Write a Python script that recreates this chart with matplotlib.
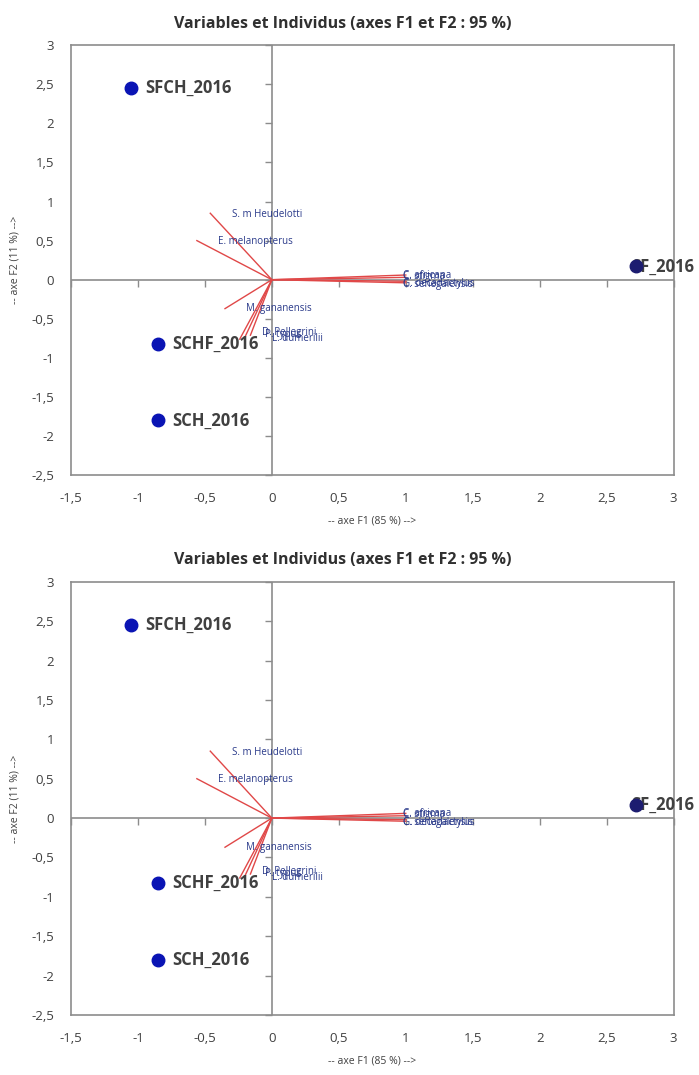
import matplotlib
matplotlib.use("Agg")
import matplotlib.pyplot as plt
from matplotlib.lines import TICKLEFT, TICKDOWN

plt.rcParams["font.family"] = ["Open Sans", "DejaVu Sans"]

# individus (observations)
obs_names = ["SFCH_2016", "SCHF_2016", "SCH_2016", "SF_2016"]
obs_x = [-1.05, -0.85, -0.85, 2.72]
obs_y = [2.45, -0.82, -1.80, 0.17]

# variables (espèces) : extrémités des vecteurs
var_names = ["S. m Heudelotti", "E. melanopterus", "C. africana", "C. stigma",
             "G. decadactylus", "C. senegalensis", "M. gananensis",
             "D. Pellegrini", "P. typus", "L. dumerilii"]
var_x = [-0.46, -0.56, 1.00, 1.00, 1.00, 1.00, -0.35, -0.24, -0.20, -0.16]
var_y = [0.85, 0.50, 0.06, 0.03, -0.02, -0.04, -0.37, -0.76, -0.73, -0.71]
# position des étiquettes des variables
lab_x = [-0.30, -0.40, 0.98, 0.98, 0.98, 0.98, -0.19, -0.07, -0.05, 0.0]
lab_y = [0.83, 0.49, 0.06, 0.04, -0.05, -0.06, -0.37, -0.68, -0.70, -0.75]

xticks = [-1.5, -1, -0.5, 0, 0.5, 1, 1.5, 2, 2.5, 3]
yticks = [-2.5, -2, -1.5, -1, -0.5, 0, 0.5, 1, 1.5, 2, 2.5, 3]


def fr(v):
    return ("%g" % v).replace(".", ",")


def draw(ax, title_y):
    grey = "#8c8c8c"
    ax.set_xlim(-1.5, 3)
    ax.set_ylim(-2.5, 3)
    for s in ax.spines.values():
        s.set_color(grey)
        s.set_linewidth(1.2)
    ax.set_xticks(xticks)
    ax.set_yticks(yticks)
    ax.set_xticklabels([fr(v) for v in xticks])
    ax.set_yticklabels([fr(v) for v in yticks])
    ax.tick_params(length=0, labelsize=9.5, labelcolor="#404040", pad=12)

    # axes passant par l'origine
    ax.axhline(0, color=grey, lw=1.2, zorder=1)
    ax.axvline(0, color=grey, lw=1.2, zorder=1)
    ax.plot([0] * len(yticks), yticks, ls="none", marker=TICKLEFT,
            ms=5, mec=grey, mew=1, zorder=1, clip_on=False)
    ax.plot(xticks, [0] * len(xticks), ls="none", marker=TICKDOWN,
            ms=5, mec=grey, mew=1, zorder=1, clip_on=False)

    for vx, vy, lx, ly, name in zip(var_x, var_y, lab_x, lab_y, var_names):
        ax.plot([0, vx], [0, vy], color="#e04848", lw=1, zorder=2)
        ax.text(lx, ly, name, fontsize=7, color="#2a3a8a", va="center",
                ha="left", zorder=3)

    for ox, oy, name in zip(obs_x, obs_y, obs_names):
        col = "#1c1c70" if name == "SF_2016" else "#0a14b4"
        ax.plot(ox, oy, "o", color=col, ms=9, zorder=5, clip_on=False)
        # l'étiquette de SF_2016 passe sous son point
        dx = -3.8 if name == "SF_2016" else 10
        ax.annotate(name, (ox, oy), xytext=(dx, 0),
                    textcoords="offset points", fontsize=12,
                    fontweight="bold", color="#404040", va="center",
                    ha="left", zorder=4, annotation_clip=False)

    fig.text(0.49, title_y, "Variables et Individus (axes F1 et F2 : 95 %)",
             fontsize=11.5, fontweight="bold", color="#303030",
             ha="center", va="center")
    ax.set_xlabel("-- axe F1 (85 %) -->", fontsize=7.5, color="#404040",
                  labelpad=8)
    ax.set_ylabel("-- axe F2 (11 %) -->", fontsize=7.5, color="#404040",
                  labelpad=8)


fig = plt.figure(figsize=(6.99, 10.75), dpi=100)
ax1 = fig.add_axes([0.1016, 0.558, 0.862, 0.400])
ax2 = fig.add_axes([0.1016, 0.0558, 0.862, 0.403])
draw(ax1, 1 - 24 / 1075)
draw(ax2, 1 - 560 / 1075)
fig.savefig("out.png", dpi=100)
